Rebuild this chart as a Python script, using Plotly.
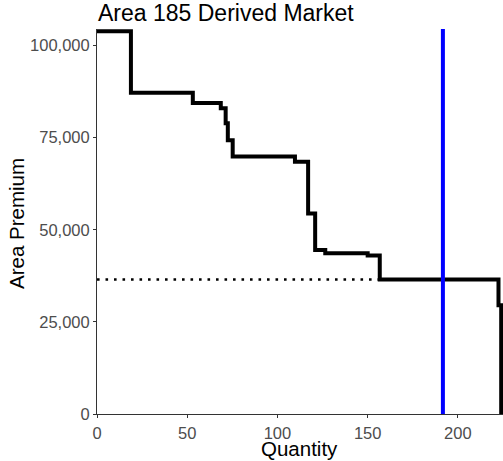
import plotly.graph_objects as go

# Step-function supply curve (quantity at which each price level starts)
step_quantity = [0, 18.8, 53.1, 68.6, 71.3, 72.5, 75.2, 109.7, 117.0, 120.9, 126.5, 150.0, 156.7, 222.5, 224.0]
step_premium = [103900, 87200, 84400, 83000, 78900, 74300, 69900, 68500, 54400, 44500, 43600, 43000, 36500, 29500, 0]

# Clearing price (dotted) and demanded quantity (blue)
clearing_quantity = [0, 156.7]
clearing_premium = [36500, 36500]
demand_quantity = 191.7

x_ticks = [0, 50, 100, 150, 200]
y_ticks = [0, 25000, 50000, 75000, 100000]
y_tick_labels = ["0", "25,000", "50,000", "75,000", "100,000"]

FONT = "Liberation Sans, Arial, sans-serif"

W, H = 503, 461
L, R, T, B = 97, 0, 29, 47
PW, PH = W - L - R, H - T - B


def px_x(px):
    return (px - L) / PW


def px_y(py):
    return (H - B - py) / PH


fig = go.Figure()
fig.add_trace(go.Scatter(
    x=clearing_quantity, y=clearing_premium, mode="lines",
    line=dict(color="black", width=2.6, dash="2.6px,5.9px"),
    hoverinfo="skip", showlegend=False,
))
fig.add_trace(go.Scatter(
    x=step_quantity, y=step_premium, mode="lines",
    line=dict(color="black", width=4, shape="hv"),
    showlegend=False,
))
fig.add_trace(go.Scatter(
    x=[demand_quantity, demand_quantity], y=[0, 110000], mode="lines",
    line=dict(color="#0000FF", width=4),
    showlegend=False,
))

fig.update_layout(
    width=W, height=H,
    margin=dict(l=L, r=R, t=T, b=B, autoexpand=False),
    paper_bgcolor="white", plot_bgcolor="white",
    font=dict(family=FONT),
    xaxis=dict(
        range=[0, 225], showgrid=False, zeroline=False, automargin=False,
        showline=True, linecolor="#333333", linewidth=1,
        ticks="outside", ticklen=3, tickcolor="#333333", tickwidth=1,
        tickvals=x_ticks, ticklabelstandoff=1,
        tickfont=dict(size=16.5, color="#4D4D4D", family=FONT),
    ),
    yaxis=dict(
        range=[0, 104500], showgrid=False, zeroline=False, automargin=False,
        showline=True, linecolor="#333333", linewidth=1,
        ticks="outside", ticklen=3, tickcolor="#333333", tickwidth=1,
        tickvals=y_ticks, ticktext=y_tick_labels,
        tickfont=dict(size=16.5, color="#4D4D4D", family=FONT),
    ),
    annotations=[
        dict(text="Area 185 Derived Market", xref="paper", yref="paper",
             x=px_x(96), y=px_y(13), xanchor="left", yanchor="middle",
             showarrow=False, font=dict(size=23, color="black", family=FONT)),
        dict(text="Quantity", xref="paper", yref="paper",
             x=px_x(299.5), y=px_y(448), xanchor="center", yanchor="middle",
             borderpad=0,
             showarrow=False, font=dict(size=20.5, color="black", family=FONT)),
        dict(text="Area Premium", xref="paper", yref="paper",
             x=px_x(16), y=px_y(224), xanchor="center", yanchor="middle",
             textangle=-90,
             showarrow=False, font=dict(size=20.5, color="black", family=FONT)),
    ],
)

fig.write_html(
    "out.html",
    config={"displayModeBar": False},
    post_script="document.body.style.margin='0';document.body.style.padding='0';"
                "document.documentElement.style.overflow='hidden';",
)
